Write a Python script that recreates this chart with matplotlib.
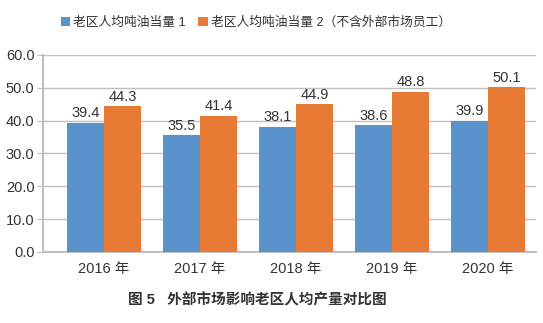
import matplotlib
matplotlib.use("Agg")
import matplotlib.pyplot as plt
import numpy as np

plt.rcParams['font.family'] = ['Liberation Sans', 'Noto Sans CJK SC', 'DejaVu Sans']

years = ["2016 年", "2017 年", "2018 年", "2019 年", "2020 年"]
series1 = [39.4, 35.5, 38.1, 38.6, 39.9]
series2 = [44.3, 41.4, 44.9, 48.8, 50.1]
label1 = "老区人均吨油当量 1"
label2 = "老区人均吨油当量 2（不含外部市场员工）"

blue = "#5a93cb"
orange = "#e77b35"
grey = "#bfbfbf"
txt = "#333333"

fig = plt.figure(figsize=(5.43, 3.23), dpi=100)
ax = fig.add_axes([0.079, 0.220, 0.908, 0.610])

x = np.arange(len(years))
w = 0.39
b1 = ax.bar(x - w / 2, series1, w, color=blue, label=label1, zorder=3)
b2 = ax.bar(x + w / 2, series2, w, color=orange, label=label2, zorder=3)

for bars, vals in ((b1, series1), (b2, series2)):
    for r, v in zip(bars, vals):
        ax.text(r.get_x() + r.get_width() / 2, v + 0.8, f"{v:.1f}",
                ha="center", va="bottom", fontsize=10.5, color=txt)

ax.set_ylim(0, 60)
ax.set_xlim(-0.636, 4.5)
ax.set_yticks(np.arange(0, 61, 10))
ax.set_yticklabels([f"{v:.1f}" for v in np.arange(0, 61, 10)], fontsize=10.5, color=txt)
ax.set_xticks(x)
ax.set_xticklabels(years, fontsize=10.5, color=txt)
ax.grid(axis="y", color=grey, linewidth=1, zorder=0)
for s in ("top", "right"):
    ax.spines[s].set_visible(False)
ax.spines["left"].set_color(grey)
ax.spines["bottom"].set_color(grey)
ax.spines["left"].set_linewidth(1.5)
ax.spines["bottom"].set_linewidth(1.5)
ax.tick_params(axis="y", length=4, color=grey, pad=2)
ax.tick_params(axis="x", length=0, pad=7)

fig.legend(handles=[b1, b2], loc="center", bbox_to_anchor=(0.471, 0.929), ncol=2,
           frameon=False, fontsize=9.2, handlelength=0.75, handleheight=0.75,
           handletextpad=0.2, columnspacing=1.0, labelcolor=txt)

fig.text(0.474, 0.071, "图 5   外部市场影响老区人均产量对比图", ha="center", va="center",
         fontsize=10.5, color=txt, fontweight="bold")

fig.savefig("out.png", dpi=100)
